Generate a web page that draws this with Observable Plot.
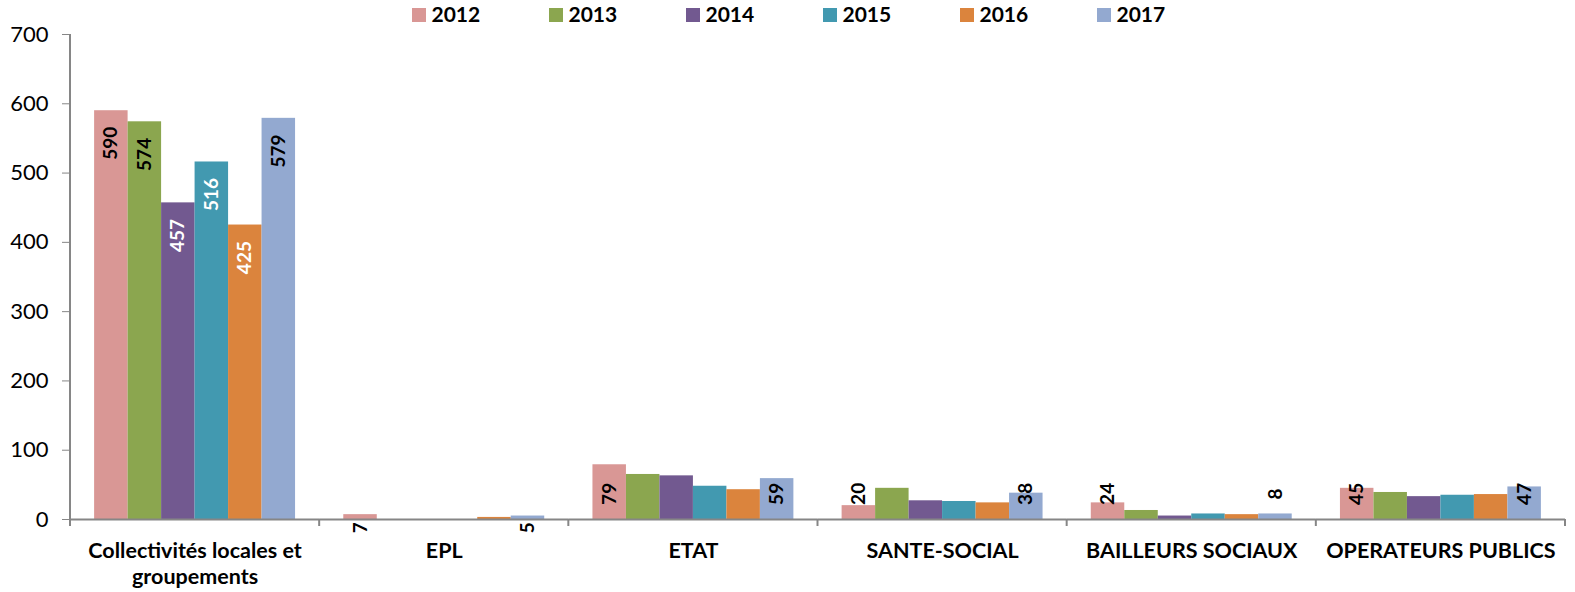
<!DOCTYPE html>
<html>
<head>
<meta charset="utf-8">
<script src="https://cdn.jsdelivr.net/npm/d3@7"></script>
<script src="https://cdn.jsdelivr.net/npm/@observablehq/plot@0.6"></script>
<style>
  html, body { margin: 0; padding: 0; background: #fff; }
  #wrap { position: relative; width: 1575px; height: 592px; font-family: Lato, "Open Sans", sans-serif; }
  #legend { position: absolute; top: 0; left: 0; width: 1575px; height: 30px; display: flex; justify-content: center; gap: 70px; }
  .item { width: 67px; position: relative; height: 30px; white-space: nowrap; }
  .sw { position: absolute; left: 0; top: 8px; width: 14px; height: 14px; }
  .lab { position: absolute; left: 20px; top: 2px; font-weight: bold; font-size: 21px; line-height: 24px; color: #000; }
  svg { display: block; }
</style>
</head>
<body>
<div id="wrap"><div id="legend"></div><div id="chart"></div></div>
<script>
const categories = ["Collectivités locales et groupements", "EPL", "ETAT", "SANTE-SOCIAL", "BAILLEURS SOCIAUX", "OPERATEURS PUBLICS"];
const years = ["2012", "2013", "2014", "2015", "2016", "2017"];
const s2012 = [590, 7, 79, 20, 24, 45];
const s2013 = [574, 0, 65, 45, 13, 39];
const s2014 = [457, 0, 63, 27, 5, 33];
const s2015 = [516, 0, 48, 26, 8, 35];
const s2016 = [425, 3, 43, 24, 7, 36];
const s2017 = [579, 5, 59, 38, 8, 47];
const yTicks = [0, 100, 200, 300, 400, 500, 600, 700];

const series = [s2012, s2013, s2014, s2015, s2016, s2017];
const colors = ["#D99795", "#8BA64F", "#725990", "#4299B0", "#DB843D", "#93A9D0"];
const whiteInk = new Set(["2014", "2015", "2016"]);

const data = [];
categories.forEach((c, i) => years.forEach((y, j) => data.push({cat: c, year: y, value: series[j][i]})));

// Labels: every bar in the first group, first and last year elsewhere
const labels = data.filter(d => d.cat === categories[0] || d.year === years[0] || d.year === years[years.length - 1]);
const labelY = v => v >= 100 ? v - 47 : (v >= 8 ? 37 : -12);

// legend
const legend = document.getElementById("legend");
years.forEach((y, j) => {
  const it = document.createElement("div");
  it.className = "item";
  it.innerHTML = `<div class="sw" style="background:${colors[j]}"></div><div class="lab">${y}</div>`;
  legend.appendChild(it);
});

const font = "Lato, 'Open Sans', sans-serif";
const plot = Plot.plot({
  width: 1575,
  height: 592,
  marginLeft: 70,
  marginRight: 10,
  marginTop: 34,
  marginBottom: 73,
  style: {fontFamily: font, background: "transparent", color: "#000"},
  fx: {domain: categories, padding: 0, round: false, axis: null},
  x: {domain: years, paddingInner: 0, paddingOuter: 0.72, round: false, axis: null},
  y: {domain: [0, 700], axis: null},
  color: {domain: years, range: colors},
  marks: [
    Plot.barY(data, {fx: "cat", x: "year", y: "value", fill: "year", inset: 0}),
    Plot.ruleY([0], {stroke: "#868686", strokeWidth: 2}),
    Plot.axisY({ticks: yTicks, label: null, tickSize: 8, tickPadding: 14, stroke: "#868686", fontSize: 22, fill: "#000", tickFormat: d => String(d)}),
    Plot.text(labels.filter(d => !(whiteInk.has(d.year) && d.value >= 100)), {
      fx: "cat", x: "year", y: d => labelY(d.value), text: d => String(d.value),
      rotate: -90, fill: "#000", fontWeight: "bold", fontSize: 19
    }),
    Plot.text(labels.filter(d => whiteInk.has(d.year) && d.value >= 100), {
      fx: "cat", x: "year", y: d => labelY(d.value), text: d => String(d.value),
      rotate: -90, fill: "#fff", fontWeight: "bold", fontSize: 19
    }),
    Plot.text(categories, {
      fx: d => d, text: d => d === categories[0] ? "Collectivités locales et\ngroupements" : d,
      frameAnchor: "bottom", dy: 19, lineAnchor: "top", lineHeight: 1.25,
      fontWeight: "bold", fontSize: 21.5, fill: "#000"
    })
  ]
});
document.getElementById("chart").appendChild(plot);

// axis lines and category boundary ticks, from the plot's own scales
const fx = plot.scale("fx");
const ys = plot.scale("y");
const svg = d3.select(plot);
const xLeft = fx.apply(categories[0]);
const bounds = categories.map(c => fx.apply(c)).concat([fx.apply(categories[categories.length - 1]) + fx.bandwidth]);
const y0 = ys.apply(0), yTop = ys.apply(700);
svg.append("line").attr("x1", xLeft).attr("x2", xLeft).attr("y1", y0).attr("y2", yTop)
  .attr("stroke", "#868686").attr("stroke-width", 2);
svg.append("g").selectAll("line").data(bounds).join("line")
  .attr("x1", d => d).attr("x2", d => d).attr("y1", y0).attr("y2", y0 + 7)
  .attr("stroke", "#868686").attr("stroke-width", 2);
</script>
</body>
</html>
